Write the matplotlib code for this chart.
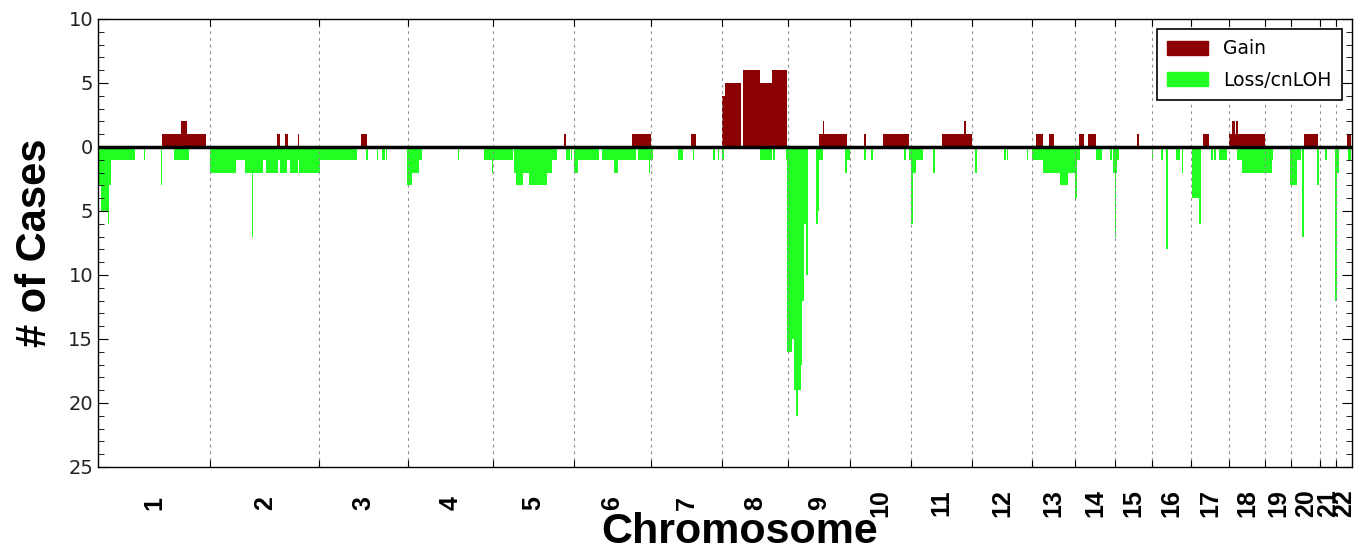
import numpy as np
import matplotlib
matplotlib.use('Agg')
import matplotlib.pyplot as plt
from matplotlib.ticker import FixedLocator, MultipleLocator, FuncFormatter, NullFormatter
from matplotlib.patches import Patch

# chromosome lengths (Mb) as plotted
chrom_names = [str(i) for i in range(1, 23)]
chrom_length = [253, 247, 199, 192, 183, 175, 159, 150, 140, 138, 138,
                134, 98, 91, 83, 88, 86, 81, 59, 65, 36, 36]

# gain segments, cumulative genome position (Mb) and number of cases
gain_start = [143.8, 186.7, 201.6, 403.4, 422.1, 450.8, 593.0, 1051.9, 1204.7, 1338.6,
              1407.9, 1415.3, 1455.3, 1494.3, 1520.7, 1628.2, 1635.9, 1639.5, 1729.1, 1772.7,
              1904.5, 1954.8, 1958.7, 2117.3, 2146.7, 2215.1, 2234.0, 2344.7, 2493.6, 2553.0,
              2559.1, 2566.6, 2568.8, 2573.3, 2723.0, 2820.0]
gain_end = [186.7, 201.6, 243.8, 410.8, 429.6, 453.7, 606.5, 1056.4, 1247.6, 1349.2,
            1415.3, 1450.8, 1494.3, 1520.7, 1555.9, 1635.9, 1639.5, 1690.0, 1733.6, 1831.3,
            1954.8, 1958.7, 1972.2, 2132.5, 2158.0, 2226.4, 2252.1, 2349.9, 2508.5, 2559.1,
            2566.6, 2568.8, 2573.3, 2634.3, 2754.6, 2829.5]
gain_count = [1, 2, 1, 1, 1, 1, 1, 1, 1, 1,
              4, 5, 6, 5, 6, 1, 2, 1, 1, 1,
              1, 2, 1, 1, 1, 1, 1, 1, 1, 1,
              2, 1, 2, 1, 1, 1]

# loss / cnLOH segments
loss_start = [0, 6.8, 21.9, 25.5, 29.3, 104.5, 142.9, 172.2, 252.8, 310.8,
              331.8, 347.2, 371.8, 379.2, 405.6, 410.8, 426.0, 433.4, 452.1, 454.4,
              501.1, 605.0, 629.1, 640.4, 650.1, 698.6, 708.1, 725.3, 813.8, 871.3,
              890.1, 892.3, 939.7, 943.6, 958.7, 972.9, 1012.9, 1024.1, 1056.4, 1067.0,
              1074.5, 1084.2, 1137.0, 1164.8, 1174.5, 1219.6, 1244.9, 1309.9, 1342.6, 1388.9,
              1398.9, 1407.9, 1494.3, 1524.4, 1553.0, 1555.9, 1565.9, 1571.1, 1575.6, 1580.8,
              1586.2, 1589.8, 1593.7, 1598.2, 1620.7, 1624.6, 1628.2, 1686.9, 1690.7, 1729.1,
              1744.9, 1820.1, 1831.3, 1835.2, 1840.4, 1885.5, 1979.7, 2045.1, 2051.2, 2096.3,
              2107.6, 2132.5, 2171.5, 2190.3, 2205.4, 2209.2, 2252.1, 2284.4, 2291.8, 2295.0,
              2300.9, 2378.5, 2399.5, 2410.8, 2432.7, 2446.3, 2468.8, 2486.0, 2511.7, 2519.1,
              2531.1, 2570.4, 2581.7, 2649.4, 2690.7, 2707.2, 2717.8, 2751.0, 2769.7, 2792.3,
              2796.1, 2822.3]
loss_end = [6.8, 21.9, 25.5, 29.3, 83.5, 106.8, 145.1, 205.4, 310.8, 331.8,
            371.8, 349.4, 379.2, 405.6, 410.8, 426.0, 433.4, 452.1, 454.4, 501.1,
            584.0, 608.8, 631.4, 647.8, 653.0, 708.1, 725.3, 730.7, 816.0, 890.1,
            892.3, 937.5, 943.6, 958.7, 972.9, 1012.9, 1024.1, 1036.8, 1065.4, 1070.6,
            1084.2, 1131.6, 1164.8, 1174.5, 1214.4, 1253.5, 1247.2, 1319.8, 1344.9, 1392.8,
            1402.5, 1413.1, 1520.7, 1528.2, 1555.9, 1565.9, 1571.1, 1575.6, 1580.8, 1586.2,
            1589.8, 1593.7, 1598.2, 1602.7, 1624.6, 1628.2, 1637.2, 1690.7, 1697.5, 1733.6,
            1748.7, 1823.9, 1862.9, 1839.0, 1845.8, 1889.4, 1983.5, 2049.0, 2054.8, 2100.0,
            2132.5, 2171.5, 2190.3, 2205.4, 2209.2, 2216.7, 2265.7, 2288.2, 2299.5, 2297.9,
            2305.4, 2382.1, 2403.4, 2414.6, 2442.4, 2449.9, 2486.0, 2489.8, 2516.2, 2523.0,
            2547.8, 2581.7, 2649.4, 2653.0, 2707.2, 2714.9, 2722.3, 2756.2, 2773.5, 2796.1,
            2802.0, 2827.7]
loss_count = [3, 5, 6, 3, 1, 1, 3, 1, 2, 1,
              2, 7, 1, 2, 1, 2, 1, 2, 1, 2,
              1, 1, 1, 1, 1, 3, 2, 1, 1, 1,
              2, 1, 2, 3, 2, 3, 2, 1, 1, 1,
              2, 1, 1, 2, 1, 1, 2, 1, 1, 1,
              1, 1, 1, 1, 1, 16, 15, 19, 21, 19,
              17, 12, 6, 10, 6, 5, 1, 2, 1, 1,
              1, 1, 1, 6, 2, 2, 2, 1, 1, 1,
              1, 2, 3, 2, 4, 1, 1, 1, 2, 7,
              1, 1, 1, 8, 1, 2, 4, 6, 1, 1,
              1, 1, 2, 1, 3, 1, 7, 3, 1, 12,
              2, 1]

gain_color = '#8b0000'
loss_color = '#22ff22'

bounds = np.concatenate([[0], np.cumsum(chrom_length)])
centers = (bounds[:-1] + bounds[1:]) / 2

fig = plt.figure(figsize=(13.54, 5.53), dpi=100)
ax = fig.add_axes([98/1354, 86/553, 1254/1354, 448/553])

gs = np.array(gain_start); ge = np.array(gain_end)
ls = np.array(loss_start); le = np.array(loss_end)
ax.bar(gs, gain_count, width=ge-gs, align='edge', color=gain_color, linewidth=0, label='Gain')
ax.bar(ls, -np.array(loss_count), width=le-ls, align='edge', color=loss_color, linewidth=0,
       label='Loss/cnLOH')
ax.axhline(0, color='k', lw=2.5, zorder=3)

ax.set_xlim(0, bounds[-1])
ax.set_ylim(-25, 10)

# chromosome boundaries as major ticks with dotted grid, names at centres
ax.xaxis.set_major_locator(FixedLocator(bounds[1:-1]))
ax.xaxis.set_major_formatter(NullFormatter())
ax.xaxis.set_minor_locator(FixedLocator(centers))
ax.set_xticklabels(chrom_names, minor=True, rotation=90, fontsize=18,
                   fontweight='bold', family='Liberation Sans', va='center')
ax.grid(axis='x', which='major', color='0.55', linestyle=(0, (2.5, 3.5)), linewidth=0.8)
ax.tick_params(axis='x', which='minor', length=0, pad=26)
ax.tick_params(axis='x', which='major', direction='in', length=5, top=True, width=0.8)

ax.yaxis.set_major_locator(MultipleLocator(5))
ax.yaxis.set_minor_locator(MultipleLocator(1))
ax.yaxis.set_major_formatter(FuncFormatter(lambda v, p: '%d' % abs(v)))
ax.tick_params(axis='y', which='both', direction='in', right=True, labelsize=14,
               labelcolor='#222222')
ax.tick_params(axis='y', which='major', length=7)
ax.tick_params(axis='y', which='minor', length=4)

for s in ax.spines.values():
    s.set_linewidth(1.0)

ax.set_xlabel('Chromosome', fontsize=31, fontweight='bold', family='Liberation Sans',
              va='top')
ax.xaxis.set_label_coords((740 - 98) / 1254, -0.100)
ax.set_ylabel('# of Cases', fontsize=30, fontweight='bold', family='Liberation Sans',
              va='center')
ax.yaxis.set_label_coords(-63/1254, 0.5)

handles = [Patch(color=gain_color, label='Gain'), Patch(color=loss_color, label='Loss/cnLOH')]
leg = ax.legend(handles=handles, loc='upper right', fontsize=13.5, fancybox=False,
                framealpha=1, edgecolor='k', handlelength=2.2, handleheight=0.8,
                borderpad=0.55, labelspacing=0.65, borderaxespad=0,
                bbox_to_anchor=(1 - 10/1254, 1 - 10/448))
leg.get_frame().set_linewidth(1.2)

fig.savefig('out.png', dpi=100)
